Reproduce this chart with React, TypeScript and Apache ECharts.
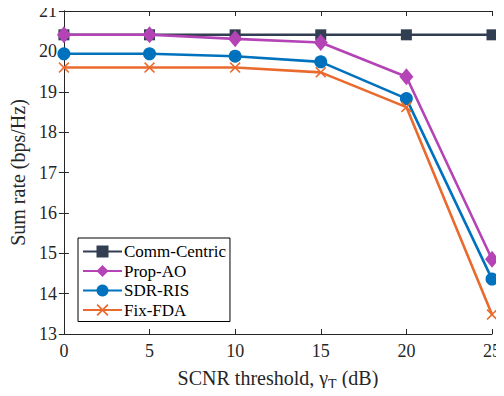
import React, { useEffect, useRef } from "react";
import * as echarts from "echarts";

const xValues = [0, 5, 10, 15, 20, 25];
const commCentric = [20.41, 20.41, 20.41, 20.41, 20.41, 20.41];
const propAO = [20.41, 20.41, 20.31, 20.22, 19.37, 14.85];
const sdrRIS = [19.94, 19.94, 19.88, 19.74, 18.83, 14.36];
const fixFDA = [19.6, 19.6, 19.6, 19.48, 18.62, 13.48];
const seriesNames = ["Comm-Centric", "Prop-AO", "SDR-RIS", "Fix-FDA"];
const colors = ["#323E51", "#B444B6", "#0072BD", "#EA6A2E"];

const crossPath =
  "path://M0,1L1,0L5,4L9,0L10,1L6,5L10,9L9,10L5,6L1,10L0,9L4,5Z";

export default function App() {
  const ref = useRef<HTMLDivElement>(null);
  useEffect(() => {
    if (!ref.current) return;
    const chart = echarts.init(ref.current, undefined, { renderer: "svg" });
    const font = "'Liberation Serif', 'Times New Roman', serif";
    const axisColor = "#262626";
    const mk = (name: string, data: number[], color: string, symbol: string, size: any) => ({
      name,
      type: "line",
      data: xValues.map((x, i) => [x, data[i]]),
      symbol,
      symbolSize: size,
      lineStyle: { color, width: 2.6 },
      itemStyle: { color, borderColor: color, borderWidth: 0 },
      z: 3,
    });
    chart.setOption({
      animation: false,
      backgroundColor: "#ffffff",
      textStyle: { fontFamily: font },
      grid: { left: 61, right: 8, top: 11, bottom: 58 },
      legend: {
        left: 78,
        top: 238,
        orient: "vertical",
        itemGap: 2.5,
        itemWidth: 39,
        itemHeight: 15,
        padding: [5, 4, 3, 4],
        borderColor: "#000",
        borderWidth: 1,
        backgroundColor: "#fff",
        textStyle: {
          fontFamily: font,
          fontSize: 17,
          lineHeight: 17,
          color: "#000",
          padding: [0, 0, 0, -3],
        },
        data: seriesNames,
      },
      xAxis: [
        {
          type: "value",
          min: 0,
          max: 25,
          interval: 5,
          position: "bottom",
          axisLine: { lineStyle: { color: axisColor, width: 1 } },
          axisTick: { inside: true, length: 5, lineStyle: { color: axisColor } },
          axisLabel: { color: axisColor, fontSize: 18, fontFamily: font, margin: 8 },
          splitLine: { show: false },
          name: "SCNR threshold, {g|γ}{s|T} (dB)",
          nameLocation: "middle",
          nameGap: 30,
          nameTextStyle: {
            color: axisColor,
            fontSize: 20,
            fontFamily: font,
            rich: {
              g: { fontSize: 20, fontFamily: font, color: axisColor },
              s: { fontSize: 14, fontFamily: font, color: axisColor, padding: [13, 0, 0, 0] },
            },
          },
        },
        {
          type: "value",
          min: 0,
          max: 25,
          interval: 5,
          position: "top",
          axisLine: { lineStyle: { color: axisColor, width: 1 } },
          axisTick: { inside: true, length: 5, lineStyle: { color: axisColor } },
          axisLabel: { show: false },
          splitLine: { show: false },
        },
      ],
      yAxis: [
        {
          type: "value",
          min: 13,
          max: 21,
          interval: 1,
          position: "left",
          axisLine: { show: true, lineStyle: { color: axisColor, width: 1 } },
          axisTick: { show: true, inside: true, length: 5, lineStyle: { color: axisColor } },
          axisLabel: { color: axisColor, fontSize: 18, fontFamily: font, margin: 7 },
          splitLine: { show: false },
          name: "Sum rate (bps/Hz)",
          nameLocation: "middle",
          nameGap: 32,
          nameTextStyle: { color: axisColor, fontSize: 20, fontFamily: font },
        },
        {
          type: "value",
          min: 13,
          max: 21,
          interval: 1,
          position: "right",
          axisLine: { show: true, lineStyle: { color: axisColor, width: 1 } },
          axisTick: { show: true, inside: true, length: 5, lineStyle: { color: axisColor } },
          axisLabel: { show: false },
          splitLine: { show: false },
        },
      ],
      series: [
        mk(seriesNames[0], commCentric, colors[0], "rect", 11),
        mk(seriesNames[1], propAO, colors[1], "diamond", [14, 17]),
        mk(seriesNames[2], sdrRIS, colors[2], "circle", 13),
        mk(seriesNames[3], fixFDA, colors[3], crossPath, 11),
      ],
    });
    return () => chart.dispose();
  }, []);
  return <div ref={ref} style={{ width: 504, height: 396, margin: -8 }} />;
}
